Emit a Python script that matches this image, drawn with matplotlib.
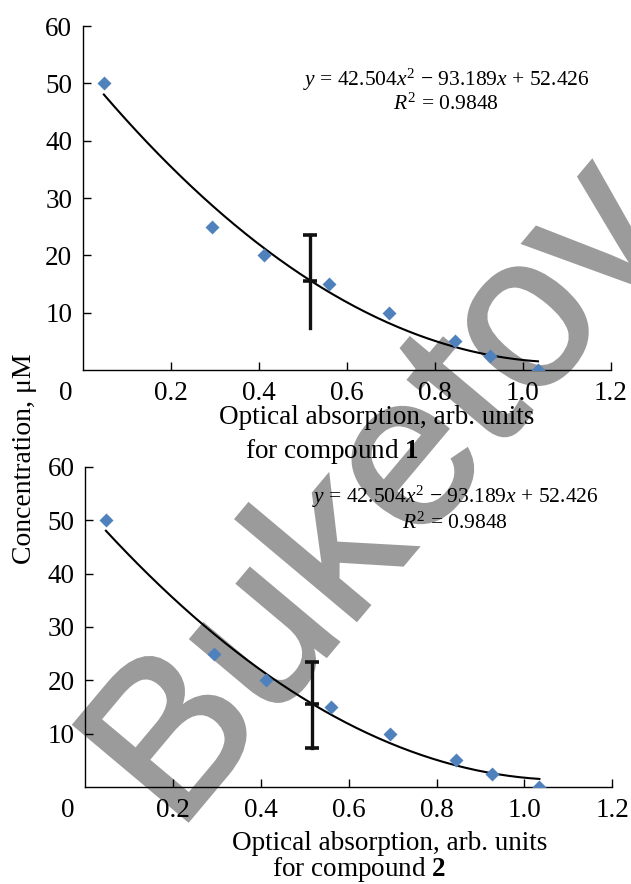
import numpy as np
import matplotlib
matplotlib.use('Agg')
import matplotlib.pyplot as plt
import matplotlib.patheffects as pe

plt.rcParams['font.family'] = ['Liberation Serif', 'DejaVu Serif']
plt.rcParams['mathtext.fontset'] = 'custom'
plt.rcParams['mathtext.rm'] = 'Liberation Serif'
plt.rcParams['mathtext.it'] = 'Liberation Serif:italic'
plt.rcParams['mathtext.bf'] = 'Liberation Serif:bold'

# calibration points (same in both panels)
absorb = [0.048, 0.293, 0.411, 0.559, 0.695, 0.845, 0.926, 1.034]
conc = [50, 25, 20, 15, 10, 5, 2.5, 0]

# trendline printed on the chart
fit_coef = [42.504, -93.189, 52.426]
fit_range = [0.048, 1.034]
eq_text = r"$y$ = 42.504$x^{2}$ − 93.189$x$ + 52.426"
r2_text = r"$R^{2}$ = 0.9848"

# measured sample with its error bar
err_x = 0.517
err_center = 15.5
err_low = 7.4
err_high = 23.5

x_ticks = [0.2, 0.4, 0.6, 0.8, 1.0, 1.2]
x_ticklabels = ['0.2', '0.4', '0.6', '0.8', '1.0', '1.2']
y_ticks = [10, 20, 30, 40, 50, 60]

compounds = ['1', '2']

W, H = 631, 884
fig = plt.figure(figsize=(W / 100, H / 100), dpi=100)

# watermark behind everything
wm_color = '#9b9b9b'
fig.text(177 / W, 1 - 834 / H, 'Buketov', fontsize=156, color=wm_color,
         family='Liberation Sans', rotation=50, rotation_mode='anchor',
         ha='left', va='baseline', zorder=-5,
         path_effects=[pe.withStroke(linewidth=2.5, foreground=wm_color,
                                     joinstyle='miter')])

# axes boxes in pixels: left, right, y0 pixel, y60 pixel
boxes = [(82.7, 611.0, 370, 26), (84.8, 612.4, 787, 467)]
eq_pos = [(446, 80, 104), (455, 497, 523)]
xlab_pos = [((377, 418), (332, 452)), ((390, 843), (359, 870))]

fs = 19.5
for i, (l, r, yb, yt) in enumerate(boxes):
    ax = fig.add_axes([l / W, 1 - yb / H, (r - l) / W, (yb - yt) / H])
    ax.patch.set_alpha(0)
    ax.set_xlim(0, 1.2)
    ax.set_ylim(0, 60)
    for s in ['top', 'right']:
        ax.spines[s].set_visible(False)
    for s in ['left', 'bottom']:
        ax.spines[s].set_linewidth(1.0)
    ax.set_xticks(x_ticks)
    ax.set_xticklabels(x_ticklabels)
    ax.set_yticks(y_ticks)
    ax.tick_params(axis='both', direction='in', length=6, width=1.0, labelsize=fs)
    ax.tick_params(axis='x', pad=8)
    ax.tick_params(axis='y', pad=7.5)
    ax.annotate('0', xy=(-0.032, 0), xycoords='axes fraction', xytext=(0, -8),
                textcoords='offset points', ha='center', va='top', fontsize=fs)

    xs = np.linspace(fit_range[0], fit_range[1], 200)
    ax.plot(xs, np.polyval(fit_coef, xs), color='black', lw=1.5, zorder=2)
    ax.plot(absorb, conc, linestyle='none', marker='D', ms=7.5, color='#4f81bd',
            mec='none', zorder=3)

    ax.plot([err_x, err_x], [err_low, err_high], color='#111111', lw=2.4, zorder=4)
    caps = [err_high, err_center] if i == 0 else [err_high, err_center, err_low]
    ax.plot([err_x] * len(caps), caps, linestyle='none', marker='_', ms=9.5,
            mew=2.6, color='#111111', zorder=4)

    ex, ey1, ey2 = eq_pos[i]
    fig.text(ex / W, 1 - ey1 / H, eq_text, fontsize=15.5, ha='center', va='center')
    fig.text(ex / W, 1 - ey2 / H, r2_text, fontsize=15.5, ha='center', va='center')

    (x1, y1), (x2, y2) = xlab_pos[i]
    fig.text(x1 / W, 1 - y1 / H, 'Optical absorption, arb. units', fontsize=fs,
             ha='center', va='center')
    fig.text(x2 / W, 1 - y2 / H, 'for compound $\\mathbf{%s}$' % compounds[i],
             fontsize=fs, ha='center', va='center')

fig.text(25 / W, 1 - 459 / H, 'Concentration, μM', fontsize=20, rotation=90,
         ha='center', va='center')

fig.savefig('out.png', dpi=100)
